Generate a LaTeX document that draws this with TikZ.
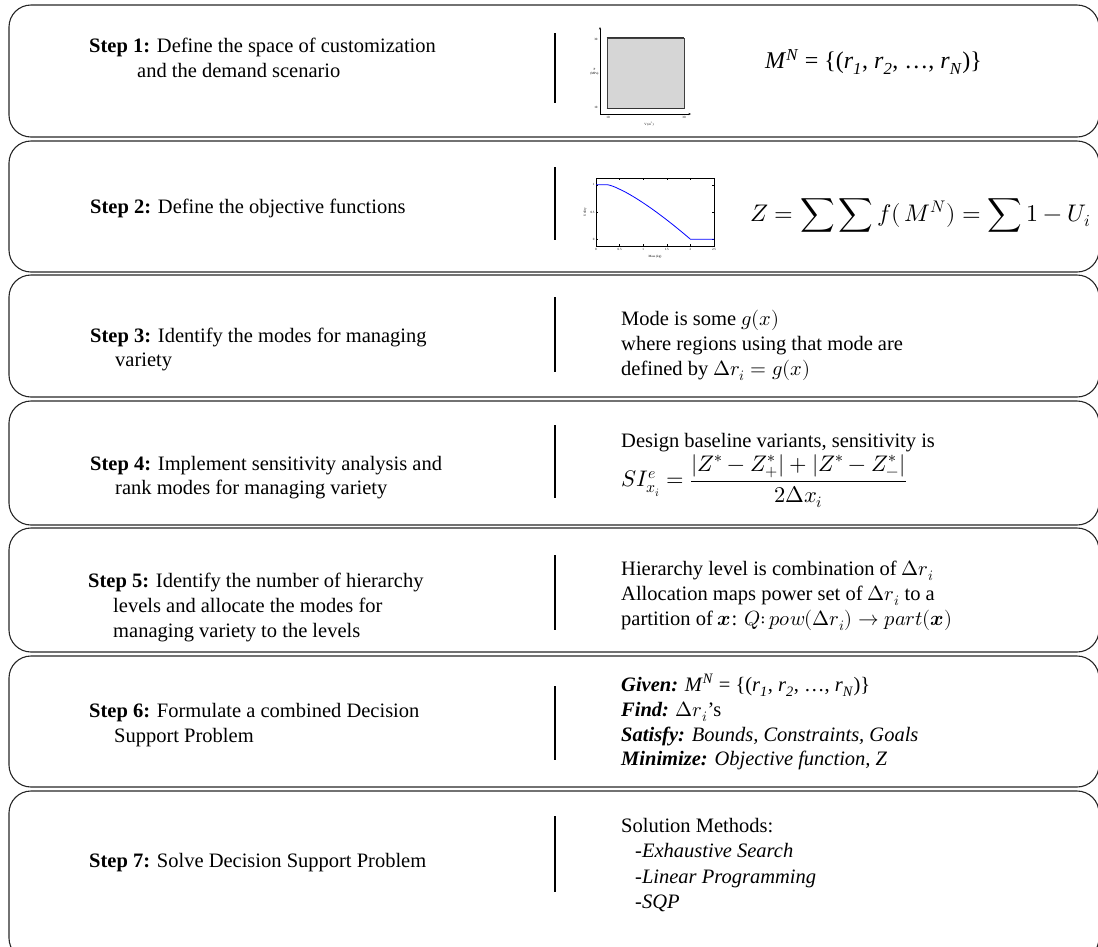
\documentclass[tikz,border=0pt]{standalone}
\usepackage{amsmath}
\usepackage{fontspec}
\usepackage{unicode-math}
\setmainfont{Liberation Serif}
\usetikzlibrary{arrows.meta}
\newcommand\mainsize{\fontsize{20.5pt}{25pt}\selectfont}
\newcommand\tinysize{\fontsize{3.2pt}{3.6pt}\selectfont}
\begin{document}
\begin{tikzpicture}[x=1pt,y=-1pt,
  stepbox/.style={draw=black!85, line width=1.1pt, rounded corners=22pt,
    minimum width=1090pt, inner sep=0pt, outer sep=0pt},
  sepline/.style={draw=black, line width=1.6pt},
  lt/.style={anchor=base west, inner sep=0pt, font=\mainsize},
  tl/.style={inner sep=0.3pt, font=\tinysize},
  axisline/.style={draw=black, line width=0.5pt}]
\useasboundingbox (0,0) rectangle (1098,946);
\clip (0,0) rectangle (1098,946);

% boxes
\node[stepbox, minimum height=132pt] (b1) at (554,71) {};
\node[stepbox, minimum height=131pt] (b2) at (554,206.5) {};
\node[stepbox, minimum height=122pt] (b3) at (554,336) {};
\node[stepbox, minimum height=124pt] (b4) at (554,463) {};
\node[stepbox, minimum height=124pt] (b5) at (554,590) {};
\node[stepbox, minimum height=131pt] (b6) at (554,721.5) {};
\node[stepbox, minimum height=169pt] (b7) at (554,875.5) {};

% separators
\foreach \i/\ya/\yb in {1/33/103,2/167/240,3/297/372,4/425/498,5/555/630,6/686/760,7/816/892}{
  \coordinate (st\i) at (555,\ya);
  \coordinate (sb\i) at (555,\yb);
  \draw[sepline] (st\i) -- (sb\i);
}

% left texts
\node[lt] (l1a) at (89,52) {\textbf{Step 1:} Define the space of customization};
\node[lt] (l1b) at (137,77) {and the demand scenario};
\node[lt] (l2) at (90,213) {\textbf{Step 2:} Define the objective functions};
\node[lt] (l3a) at (90,342) {\textbf{Step 3:} Identify the modes for managing};
\node[lt] (l3b) at (115,366) {variety};
\node[lt] (l4a) at (90,470) {\textbf{Step 4:} Implement sensitivity analysis and};
\node[lt] (l4b) at (115,494) {rank modes for managing variety};
\node[lt] (l5a) at (88,587) {\textbf{Step 5:} Identify the number of hierarchy};
\node[lt] (l5b) at (113,612) {levels and allocate the modes for};
\node[lt] (l5c) at (113,637) {managing variety to the levels};
\node[lt] (l6a) at (89,717) {\textbf{Step 6:} Formulate a combined Decision};
\node[lt] (l6b) at (114,742) {Support Problem};
\node[lt] (l7) at (89,867) {\textbf{Step 7:} Solve Decision Support Problem};

% step 1 plot
\coordinate (p1o) at (600,114);
\coordinate (p1y) at (600,27);
\coordinate (p1x) at (691,114);
\draw[axisline, -{Stealth[length=2.5pt,width=2pt]}] (p1o) -- (p1y);
\draw[axisline, -{Stealth[length=2.5pt,width=2pt]}] (p1o) -- (p1x);
\node[draw=black!75, line width=0.6pt, fill=black!16, minimum width=77pt,
  minimum height=70pt, inner sep=0pt] (sq) at (645.5,73) {};
\draw[line width=1.1pt, black!80] (sq.north west) -- (sq.north east);
\draw[line width=1.1pt, black!80] (sq.south west) -- (sq.south east);
\node[tl, anchor=east] (q30) at (598,39) {30};
\node[tl, anchor=east] (q10) at (598,107) {10};
\node[tl, anchor=east, align=center] (qp) at (599,72) {P\\(MPa)};
\node[tl, anchor=north] (qx10) at (608,116) {10};
\node[tl, anchor=north] (qx30) at (684,116) {30};
\node[tl, anchor=north] (qv) at (649,122) {V (m\textsuperscript{3})};

% step 1 formula
\node[anchor=west, inner sep=0pt, font=\fontsize{24pt}{28pt}\selectfont] (f1) at (765,62)
  {\textit{M}\textsuperscript{\textit{N}} = \{(\textit{r}\textsubscript{\textit{1}}, \textit{r}\textsubscript{\textit{2}}, …, \textit{r}\textsubscript{\textit{N}})\}};

% step 2 plot
\node[draw=black, line width=0.6pt, minimum width=118pt, minimum height=68pt,
  inner sep=0pt] (fr) at (655,212) {};
\foreach \t in {0.5,1,1.5,2}{
  \draw[line width=0.3pt] ({596+47.2*\t},246) -- ({596+47.2*\t},244);
  \draw[line width=0.3pt] ({596+47.2*\t},178) -- ({596+47.2*\t},180);
}
\foreach \t in {0,0.5,1}{
  \draw[line width=0.3pt] (596,{239.2-54.4*\t}) -- (598,{239.2-54.4*\t});
  \draw[line width=0.3pt] (714,{239.2-54.4*\t}) -- (712,{239.2-54.4*\t});
}
\draw[blue, line width=0.8pt] (596,184.8) -- (607.8,184.8)
  -- plot[domain=0.2501:2, samples=40] ({596+47.2*\x},{239.2-54.4*(1-((\x-0.25)/1.75)^1.3)})
  -- (714,239.2);
\foreach \t/\s in {0/0,0.5/0.5,1/1,1.5/1.5,2/2,2.5/2.5}{
  \node[tl, anchor=north] at ({596+47.2*\t},248) {\s};
}
\node[tl, anchor=east] (u1) at (595,184.8) {1};
\node[tl, anchor=east] (u05) at (595,212) {0.5};
\node[tl, anchor=east] (u0) at (595,239.2) {0};
\node[tl, rotate=90] (ul) at (585,212) {Utility};
\node[tl, anchor=north] (ml) at (655,255) {Mass (kg)};

% step 2 formula
\node[anchor=west, inner sep=0pt, font=\fontsize{24pt}{28pt}\selectfont] (f2) at (750,215)
  {$\displaystyle Z=\sum\sum f(\,M^{N})=\sum 1-U_i$};

% step 3
\node[lt] (r3a) at (621,325) {Mode is some $g(x)$};
\node[lt] (r3b) at (621,350) {where regions using that mode are};
\node[lt] (r3c) at (621,375) {defined by $\Delta r_i = g(x)$};

% step 4
\node[lt] (r4a) at (621,447) {Design baseline variants, sensitivity is};
\node[anchor=west, inner sep=0pt, font=\fontsize{22.5pt}{27pt}\selectfont] (r4b) at (621,481)
  {$\displaystyle SI^{e}_{x_i}=\frac{|Z^{*}-Z^{*}_{+}|+|Z^{*}-Z^{*}_{-}|}{2\mitDelta x_i}$};

% step 5
\node[lt] (r5a) at (621,575) {Hierarchy level is combination of $\Delta r_i$};
\node[lt] (r5b) at (621,600) {Allocation maps power set of $\Delta r_i$ to a};
\node[lt] (r5c) at (621,625) {partition of $\symbfit{x}$: $Q{:}\,pow(\Delta r_i)\rightarrow part(\symbfit{x})$};

% step 6
\node[lt] (r6a) at (621,691) {\textbf{\textit{Given:}} \textit{M}\textsuperscript{\textit{N}} = \{(\textit{r}\textsubscript{\textit{1}}, \textit{r}\textsubscript{\textit{2}}, …, \textit{r}\textsubscript{\textit{N}})\}};
\node[lt] (r6b) at (621,716) {\textbf{\textit{Find:}} $\Delta r_i$’s};
\node[lt] (r6c) at (621,741) {\textbf{\textit{Satisfy:}} \textit{Bounds, Constraints, Goals}};
\node[lt] (r6d) at (621,765) {\textbf{\textit{Minimize:}} \textit{Objective function, Z}};

% step 7
\node[lt] (r7a) at (621,832) {Solution Methods:};
\node[lt] (r7b) at (635,857) {\textit{-Exhaustive Search}};
\node[lt] (r7c) at (635,883) {\textit{-Linear Programming}};
\node[lt] (r7d) at (635,908) {\textit{-SQP}};
\end{tikzpicture}
\end{document}
